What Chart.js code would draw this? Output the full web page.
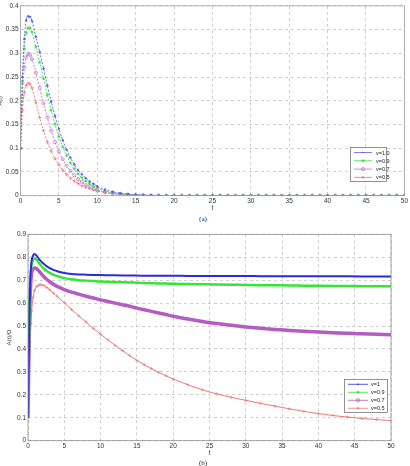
<!DOCTYPE html>
<html><head><meta charset="utf-8">
<script src="https://cdn.jsdelivr.net/npm/chart.js@4.4.1/dist/chart.umd.min.js"></script>
<style>
html,body{margin:0;padding:0;background:#fff;width:410px;height:466px;overflow:hidden;}
#wa{position:absolute;left:-3px;top:0;width:413px;height:214px;}
#wb{position:absolute;left:0;top:228px;width:410px;height:238px;}
.cap{position:absolute;left:0;width:406px;text-align:center;font:7px "Liberation Serif",serif;color:#222;}
</style></head><body>
<div id="wa"><canvas id="ca"></canvas></div>
<div class="cap" style="top:215px">(a)</div>
<div id="wb"><canvas id="cb"></canvas></div>
<div class="cap" style="top:459px">(b)</div>
<script>
// ---------- data: chart (a) ----------
const tA = [0,0.25,0.5,0.75,1,1.25,1.5,2,2.5,3,3.5,4,4.5,5,5.5,6,6.5,7,7.5,8,8.5,9,9.5,10,
  11,12,13,14,15,16,17,18,19,20,21,22,23,24,25,26,27,28,29,30,31,32,33,34,35,36,37,38,39,40,41,42,43,44,45,46,47,48,49,50];
const labelsA = ['v=1.0','v=0.9','v=0.7','v=0.5'];
const v10A = [0.10,0.25,0.33,0.370,0.378,0.377,0.368,0.335,0.303,0.268,0.232,0.198,0.168,0.141,0.117,0.097,0.080,0.066,0.054,0.045,0.037,0.030,0.025,0.020,
  0.013,0.0085,0.0055,0.0035,0.0022,0.0014,0.0009,0.0005,0.0003,0.0002,0,0,0,0,0,0,0,0,0,0,0,0,0,0,0,0,0,0,0,0,0,0,0,0,0,0,0,0,0,0];
const v09A = [0.10,0.24,0.31,0.343,0.354,0.353,0.345,0.314,0.281,0.247,0.212,0.180,0.151,0.125,0.103,0.085,0.069,0.057,0.046,0.038,0.031,0.025,0.020,0.016,
  0.010,0.0065,0.004,0.0026,0.0016,0.001,0.0006,0.0004,0.0002,0.0001,0,0,0,0,0,0,0,0,0,0,0,0,0,0,0,0,0,0,0,0,0,0,0,0,0,0,0,0,0,0];
const v07A = [0.10,0.21,0.27,0.292,0.299,0.297,0.288,0.259,0.227,0.195,0.165,0.137,0.113,0.093,0.077,0.063,0.052,0.043,0.035,0.029,0.023,0.019,0.015,0.012,
  0.0075,0.0047,0.003,0.0018,0.0011,0.0007,0.0004,0.0002,0.0001,0,0,0,0,0,0,0,0,0,0,0,0,0,0,0,0,0,0,0,0,0,0,0,0,0,0,0,0,0,0,0];
const v05A = [0.10,0.18,0.218,0.232,0.237,0.235,0.227,0.197,0.165,0.137,0.113,0.094,0.078,0.065,0.054,0.045,0.037,0.031,0.026,0.021,0.018,0.015,0.012,0.010,
  0.0065,0.0042,0.0027,0.0017,0.001,0.0006,0.0004,0.0002,0.0001,0,0,0,0,0,0,0,0,0,0,0,0,0,0,0,0,0,0,0,0,0,0,0,0,0,0,0,0,0,0,0];

// ---------- data: chart (b) ----------
const tB = [0,0.1,0.2,0.3,0.4,0.5,0.7,0.9,1.2,1.5,1.8,2.2,2.6,3,3.5,4,
  5,6,7,8,9,10,11,12,13,14,15,16,17,18,19,20,22,24,26,28,30,32,34,36,38,40,42,44,46,48,50];
const labelsB = ['v=1','v=0.9','v=0.7','v=0.5'];
const v10B = [0.10,0.36,0.56,0.68,0.75,0.785,0.807,0.814,0.806,0.793,0.782,0.770,0.760,0.752,0.745,0.739,
  0.731,0.727,0.725,0.724,0.723,0.722,0.7215,0.721,0.7205,0.720,0.720,0.7195,0.7195,0.719,0.719,0.719,0.7185,0.7185,0.718,0.718,0.718,0.7175,0.7175,0.717,0.717,0.717,0.7168,0.7166,0.7164,0.7162,0.716];
const v09B = [0.10,0.35,0.545,0.665,0.735,0.77,0.79,0.795,0.789,0.775,0.763,0.750,0.740,0.732,0.724,0.718,
  0.709,0.704,0.700,0.698,0.696,0.694,0.693,0.692,0.691,0.690,0.689,0.688,0.687,0.686,0.685,0.684,0.683,0.682,0.681,0.680,0.679,0.678,0.6775,0.677,0.676,0.6755,0.675,0.6745,0.674,0.6735,0.673];
const v07B = [0.10,0.33,0.52,0.635,0.70,0.73,0.748,0.753,0.750,0.740,0.729,0.715,0.703,0.693,0.682,0.673,
  0.659,0.648,0.639,0.630,0.622,0.614,0.607,0.600,0.593,0.586,0.578,0.571,0.564,0.557,0.550,0.543,0.531,0.520,0.511,0.503,0.496,0.490,0.485,0.481,0.477,0.474,0.471,0.468,0.466,0.464,0.462];
const v05B = [0.10,0.22,0.33,0.43,0.51,0.565,0.625,0.655,0.672,0.679,0.680,0.677,0.668,0.658,0.644,0.630,
  0.601,0.572,0.544,0.517,0.490,0.464,0.440,0.416,0.393,0.371,0.350,0.331,0.314,0.298,0.283,0.269,0.244,0.222,0.204,0.189,0.176,0.163,0.151,0.139,0.128,0.118,0.110,0.103,0.097,0.092,0.088];

// ---------- helpers ----------
const FONT = '"Liberation Sans", Arial, sans-serif';
const pts = (xs, ys) => xs.map((x, i) => ({x, y: ys[i]}));

function drawMarker(ctx, style, x, y, r, color) {
  ctx.save();
  ctx.strokeStyle = color; ctx.fillStyle = color; ctx.lineWidth = 0.8; ctx.setLineDash([]);
  ctx.beginPath();
  if (style === 'circle') { ctx.arc(x, y, r, 0, Math.PI * 2); ctx.stroke(); }
  else if (style === 'dot') { ctx.arc(x, y, r, 0, Math.PI * 2); ctx.fill(); }
  else if (style === 'cross') { ctx.moveTo(x - r, y); ctx.lineTo(x + r, y); ctx.moveTo(x, y - r); ctx.lineTo(x, y + r); ctx.stroke(); }
  else if (style === 'star') {
    ctx.moveTo(x - r, y); ctx.lineTo(x + r, y); ctx.moveTo(x, y - r); ctx.lineTo(x, y + r);
    const d = r * 0.7; ctx.moveTo(x - d, y - d); ctx.lineTo(x + d, y + d); ctx.moveTo(x - d, y + d); ctx.lineTo(x + d, y - d); ctx.stroke();
  }
  ctx.restore();
}

const framePlugin = {
  id: 'frame',
  afterDatasetsDraw(chart, args, o) {
    const a = chart.chartArea, ctx = chart.ctx;
    ctx.save(); ctx.strokeStyle = o.color; ctx.lineWidth = 0.8; ctx.setLineDash([]);
    ctx.strokeRect(a.left, a.top, a.right - a.left, a.bottom - a.top);
    ctx.restore();
  }
};

const boxLegend = {
  id: 'boxLegend',
  afterDraw(chart, args, o) {
    const ctx = chart.ctx;
    ctx.save();
    ctx.fillStyle = '#fff'; ctx.fillRect(o.x, o.y, o.w, o.h);
    ctx.strokeStyle = '#666'; ctx.lineWidth = 0.7; ctx.strokeRect(o.x + 0.5, o.y + 0.5, o.w, o.h);
    ctx.font = o.font + 'px ' + FONT; ctx.textBaseline = 'middle'; ctx.textAlign = 'left';
    chart.data.datasets.forEach((ds, i) => {
      const y = o.y + o.row0 + i * o.dy;
      ctx.strokeStyle = ds.borderColor; ctx.lineWidth = o.lw; ctx.setLineDash([]);
      ctx.beginPath(); ctx.moveTo(o.x + o.l0, y); ctx.lineTo(o.x + o.l1, y); ctx.stroke();
      drawMarker(ctx, ds.legendMarker, o.x + (o.l0 + o.l1) / 2, y, ds.legendMarker === 'dot' ? 0.8 : 1.6, ds.borderColor);
      ctx.fillStyle = '#222';
      ctx.fillText(ds.label, o.x + o.tx, y + 0.5);
    });
    ctx.restore();
  }
};

function makeOptions(yMax, yStep, yTitle, yWidth, titlePad, legendOpts, pad, frameColor) {
  return {
    responsive: true, maintainAspectRatio: false, animation: false, events: [],
    devicePixelRatio: 1,
    layout: { padding: pad },
    plugins: { legend: { display: false }, tooltip: { enabled: false },
      boxLegend: legendOpts, frame: { color: frameColor } },
    scales: {
      x: {
        type: 'linear', min: 0, max: 50,
        ticks: { stepSize: 5, padding: 2, color: '#333', font: { size: 6.5, family: FONT }, maxRotation: 0 },
        grid: { color: '#c4c4c4', lineWidth: 0.8, drawTicks: false },
        border: { display: false, dash: [3, 3] },
        title: { display: true, text: 't', color: '#333', font: { size: 6.5, family: FONT }, padding: { top: 0, bottom: 0 } },
        afterFit(s) { s.height = 16; }
      },
      y: {
        type: 'linear', min: 0, max: yMax,
        ticks: { stepSize: yStep, padding: 2, color: '#333', font: { size: 6.5, family: FONT },
          callback: v => String(+v.toFixed(2)) },
        grid: { color: '#c4c4c4', lineWidth: 0.8, drawTicks: false },
        border: { display: false, dash: [3, 3] },
        title: { display: true, text: yTitle, color: '#444', font: { size: 6, family: FONT }, padding: { top: titlePad, bottom: 0 } },
        afterFit(s) { s.width = yWidth; }
      }
    }
  };
}

// ---------- chart (a) ----------
const colA = ['#5a5af0', '#33dd44', '#c070d0', '#f07070'];
const serA = [v10A, v09A, v07A, v05A];
const stA = [['circle', 0.9, 'dot'], ['star', 1.6, 'star'], ['circle', 1.6, 'circle'], ['cross', 1.8, 'cross']];
new Chart(document.getElementById('ca'), {
  type: 'line',
  data: {
    datasets: serA.map((s, i) => ({
      label: labelsA[i], data: pts(tA, s),
      borderColor: colA[i], backgroundColor: i === 0 ? colA[i] : 'transparent',
      borderWidth: 0.9, borderDash: [2, 1.5],
      pointStyle: stA[i][0], pointRadius: stA[i][1], pointBorderWidth: 0.7,
      pointBorderColor: colA[i], pointBackgroundColor: i === 0 ? colA[i] : 'transparent',
      cubicInterpolationMode: 'monotone', fill: false, legendMarker: stA[i][2]
    }))
  },
  options: makeOptions(0.4, 0.05, 'A(t)', 23.5, 0,
    { x: 353, y: 147, w: 36, h: 34, row0: 5.5, dy: 8.3, l0: 4, l1: 22, tx: 26, font: 5.5, lw: 0.8 },
    { left: 0, top: 4, right: 5.5, bottom: 2.3 }, '#a0a0a0'),
  plugins: [framePlugin, boxLegend]
});

// ---------- chart (b) ----------
const colB = ['#2a2ae0', '#33e633', '#b35cc2', '#f07878'];
const serB = [v10B, v09B, v07B, v05B];
const bwB = [2, 2.5, 3.5, 1];
const stB = [['circle', 0, 'dot'], ['star', 0, 'star'], ['circle', 0, 'circle'], ['cross', 1.6, 'cross']];
new Chart(document.getElementById('cb'), {
  type: 'line',
  data: {
    datasets: serB.map((s, i) => ({
      label: labelsB[i], data: pts(tB, s),
      borderColor: colB[i], backgroundColor: 'transparent',
      borderWidth: bwB[i],
      pointStyle: stB[i][0], pointRadius: stB[i][1], pointBorderWidth: 0.7,
      pointBorderColor: colB[i], pointBackgroundColor: 'transparent',
      cubicInterpolationMode: 'monotone', fill: false, legendMarker: stB[i][2]
    }))
  },
  options: makeOptions(0.9, 0.1, 'A(t)/Ω', 28, 6,
    { x: 344, y: 151, w: 43, h: 33, row0: 5.3, dy: 8, l0: 4, l1: 24, tx: 27, font: 5.5, lw: 0.8 },
    { left: 0, top: 6.3, right: 19, bottom: 9.3 }, '#909090'),
  plugins: [framePlugin, boxLegend]
});
</script>
</body></html>
